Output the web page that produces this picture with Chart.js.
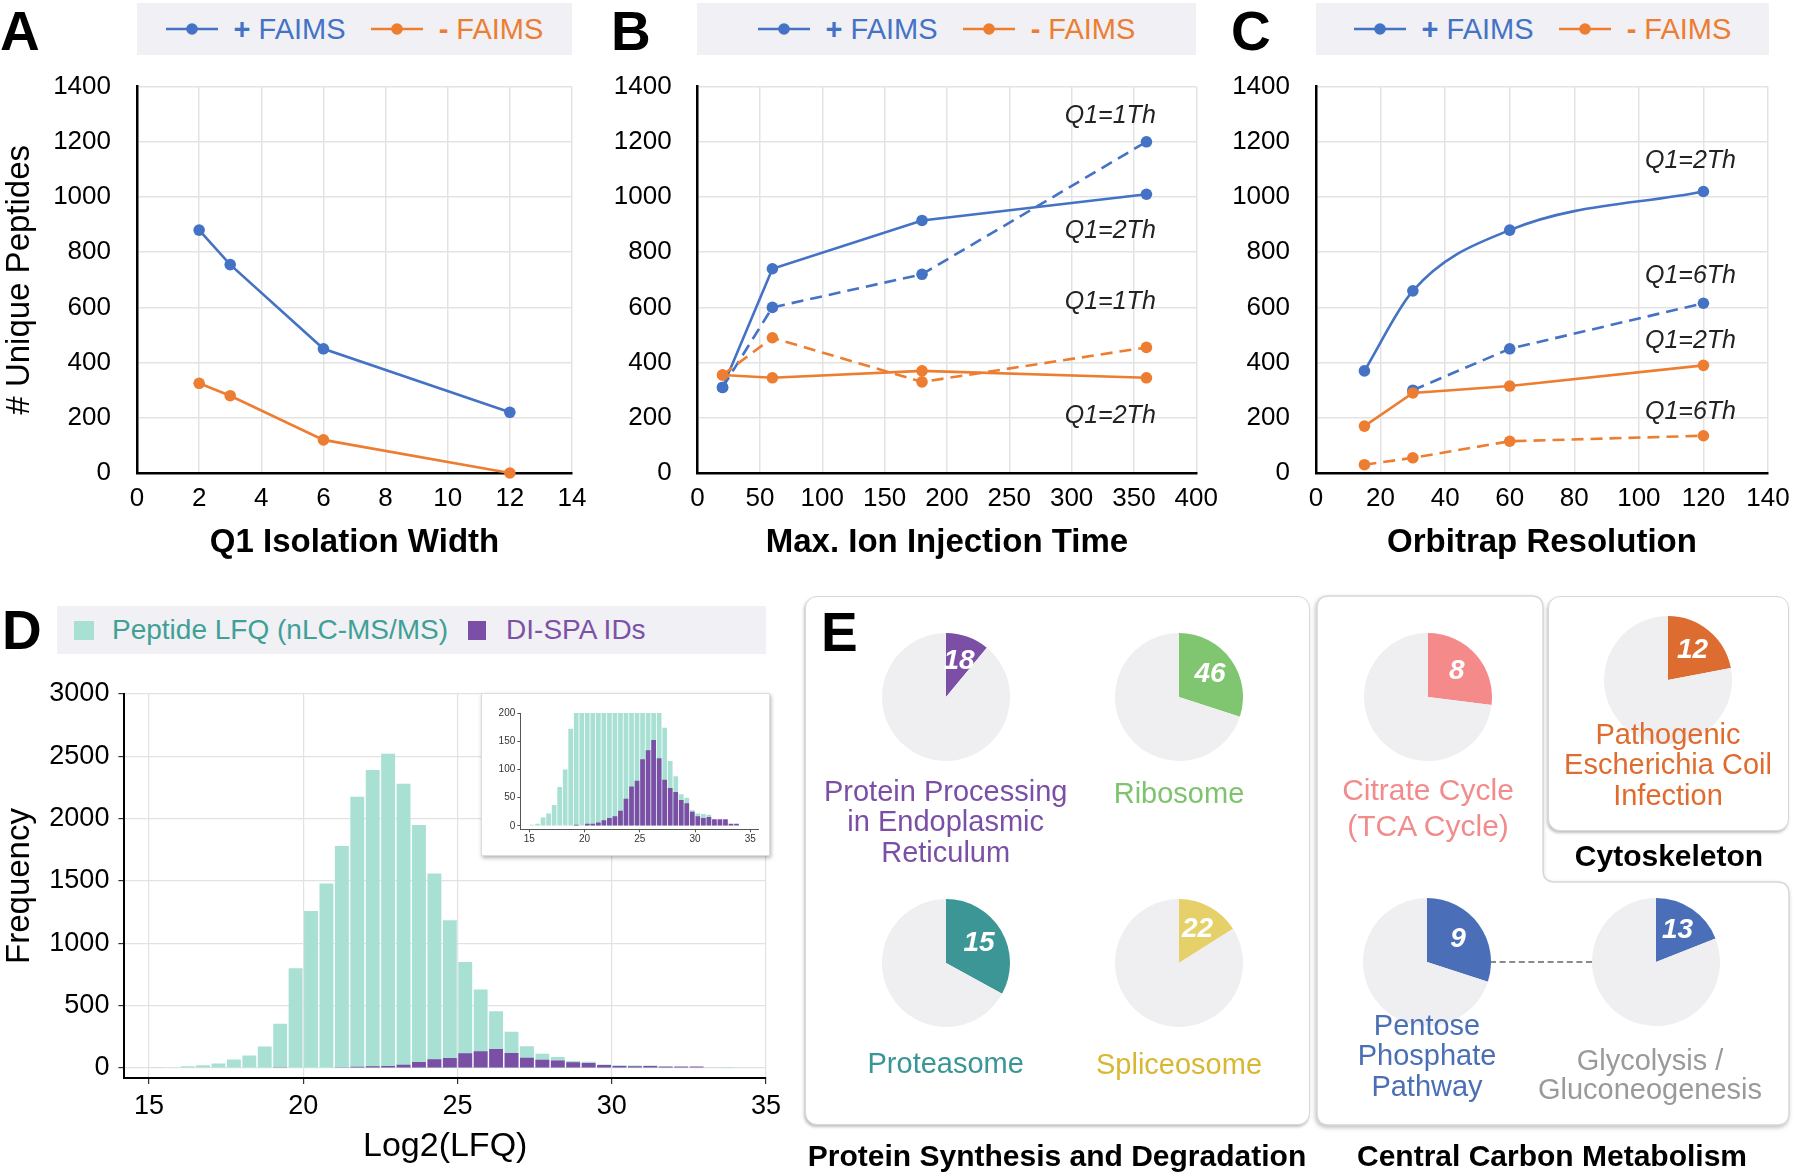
<!DOCTYPE html>
<html lang="en">
<head>
<meta charset="UTF-8">
<title>FAIMS / DI-SPA</title>
<script src="https://cdn.jsdelivr.net/npm/chart.js@4"></script>
<style>
  body { margin: 0; background: #fff; font-family: "Liberation Sans", Arial, sans-serif; color: #000; }
  #page { position: relative; width: 1800px; height: 1176px; overflow: hidden; }
  canvas, .abs { position: absolute; }
  .letter { position: absolute; font-weight: bold; font-size: 55px; line-height: 55px; }
  .legend { position: absolute; background: #f0f0f5; display: flex; align-items: center; justify-content: center; font-size: 29px; height: 52px; top: 3px; }
  .legend .txt { margin-left: 16px; margin-right: 25px; white-space: pre; }
  .legend .txt:last-child { margin-right: 0; }
  .box { position: absolute; background: #fff; border: 1.5px solid #d8d8d8; border-radius: 12px; box-shadow: -1px 2px 3px rgba(0,0,0,0.25); box-sizing: border-box; }
  .plabel { position: absolute; white-space: pre; text-align: center; transform: translateX(-50%); z-index: 3; }
  .group { position: absolute; font-weight: bold; font-size: 30px; line-height: 36px; transform: translateX(-50%); white-space: nowrap; z-index: 3; }
</style>
</head>
<body>
<div id="page">
  <div class="letter" style="left:0;top:4px">A</div>
  <div class="letter" style="left:611px;top:4px">B</div>
  <div class="letter" style="left:1231px;top:4px">C</div>
  <div class="letter" style="left:2px;top:603px">D</div>

  <div class="legend" id="legA" style="left:137px;width:435px"></div>
  <div class="legend" id="legB" style="left:697px;width:499px"></div>
  <div class="legend" id="legC" style="left:1316px;width:453px"></div>

  <canvas id="chartA" width="600" height="535" style="left:0;top:45px"></canvas>
  <canvas id="chartB" width="628" height="535" style="left:600px;top:45px"></canvas>
  <canvas id="chartC" width="600" height="535" style="left:1200px;top:45px"></canvas>

  <div class="abs" id="legD" style="left:57px;top:606px;width:709px;height:48px;background:#f0f0f5;display:flex;align-items:center;font-size:28px"></div>
  <canvas id="chartD" width="790" height="511" style="left:0;top:665px"></canvas>
  <div class="abs" style="left:481px;top:693px;width:287px;height:161px;background:#fff;border:1px solid #ddd;box-shadow:1px 2px 4px rgba(0,0,0,0.3)">
    <canvas id="inset" width="287" height="161" style="left:0;top:0"></canvas>
  </div>

  <!-- panel E frames -->
  <div class="box" style="left:805px;top:596px;width:505px;height:529px"></div>
  <svg class="abs" width="1800" height="1176" style="left:0;top:0;filter:drop-shadow(-1px 2px 2px rgba(0,0,0,0.25))">
    <path d="M1329,596 H1531 Q1543,596 1543,608 V870 Q1543,882 1555,882 H1777 Q1789,882 1789,894 V1113 Q1789,1125 1777,1125 H1329 Q1317,1125 1317,1113 V608 Q1317,596 1329,596 Z"
          fill="#fff" stroke="#d8d8d8" stroke-width="1.5"/>
  </svg>
  <div class="box" style="left:1548px;top:596px;width:241px;height:235px"></div>
  <div class="abs" style="left:1490px;top:961px;width:102px;border-top:2px dashed #8a8a8a;z-index:2"></div>
  <div class="letter" style="left:821px;top:605px;z-index:3">E</div>
  <div id="pies"></div>
  <div class="group" style="left:1057px;top:1138px">Protein Synthesis and Degradation</div>
  <div class="group" style="left:1552px;top:1138px">Central Carbon Metabolism</div>
  <div class="group" style="left:1669px;top:838px">Cytoskeleton</div>
</div>

<script>
Chart.defaults.font.family = '"Liberation Sans", Arial, sans-serif';
Chart.defaults.color = '#000';

const BLUE = '#4472c4', ORANGE = '#ed7d31';
const seriesNames = ['+ FAIMS', '- FAIMS'];

// A: Q1 isolation width
const isoWidth = [2, 3, 6, 12];
const aPlus  = [880, 755, 450, 220];
const aMinus = [325, 280, 120, 0];

// B: max ion injection time (solid Q1=2Th, dashed Q1=1Th)
const injTime = [20, 60, 180, 360];
const bPlus2  = [310, 740, 915, 1010];
const bPlus1  = [310, 600, 720, 1200];
const bMinus2 = [355, 345, 370, 345];
const bMinus1 = [355, 490, 330, 455];
const bNotes  = ['Q1=1Th', 'Q1=2Th', 'Q1=1Th', 'Q1=2Th'];
const bNoteY  = [1293, 878, 619, 205];

// C: orbitrap resolution (solid Q1=2Th, dashed Q1=6Th)
const orbiRes = [15, 30, 60, 120];
const cPlus2  = [370, 660, 880, 1020];
const cPlus6  = [null, 300, 450, 615];
const cMinus2 = [170, 290, 315, 390];
const cMinus6 = [30, 55, 115, 135];
const cNotes  = ['Q1=2Th', 'Q1=6Th', 'Q1=2Th', 'Q1=6Th'];
const cNoteY  = [1131, 712, 479, 220];

// D: histogram, 0.5 wide bins
const binCenters = [15.25, 15.75, 16.25, 16.75, 17.25, 17.75, 18.25, 18.75, 19.25, 19.75,
  20.25, 20.75, 21.25, 21.75, 22.25, 22.75, 23.25, 23.75, 24.25, 24.75,
  25.25, 25.75, 26.25, 26.75, 27.25, 27.75, 28.25, 28.75, 29.25, 29.75,
  30.25, 30.75, 31.25, 31.75, 32.25, 32.75, 33.25, 33.75];
const lfqCounts = [2, 4, 15, 22, 37, 69, 100, 172, 355, 800,
  1260, 1480, 1780, 2175, 2390, 2520, 2280, 1950, 1560, 1185,
  850, 630, 455, 290, 174, 115, 88, 56, 50, 28,
  22, 21, 20, 8, 6, 5, 2, 1];
const dispaCounts = [0, 0, 0, 0, 0, 0, 0, 0, 2, 0,
  4, 4, 6, 10, 14, 17, 27, 48, 70, 80,
  118, 134, 152, 120, 82, 67, 60, 46, 40, 25,
  17, 14, 16, 12, 12, 12, 4, 4];
const dLegend = ['Peptide LFQ (nLC-MS/MS)', 'DI-SPA IDs'];
const dTicksX = [15, 20, 25, 30, 35];
const dTicksY = [0, 500, 1000, 1500, 2000, 2500, 3000];
const insetTicksY = [0, 50, 100, 150, 200];
const MINT = '#a8e0d4', PURPLE = '#7b4fa6';

// E: pathway pies
const pathways = ['Protein Processing\nin Endoplasmic\nReticulum', 'Ribosome', 'Proteasome', 'Spliceosome',
  'Citrate Cycle\n(TCA Cycle)', 'Pathogenic\nEscherichia Coil\nInfection', 'Pentose\nPhosphate\nPathway', 'Glycolysis /\nGluconeogenesis'];
const pathwayIds = [18, 46, 15, 22, 8, 12, 9, 13];
const pathwayShare = [11, 30, 33, 16, 27, 22, 30, 19];
const pieColors = ['#7b4fa6', '#80c56f', '#3d9696', '#e6d06a', '#f48a8a', '#dd6c30', '#4a6fb8', '#4a6fb8'];
const textColors = ['#7a4fa5', '#7dc46d', '#3a9696', '#d8b833', '#f28b8b', '#e06b2e', '#4a6fb5', '#9a9a9a'];

// ---------- legends ----------
function marker(c) {
  return '<svg width="52" height="14"><line x1="0" y1="7" x2="52" y2="7" stroke="' + c +
    '" stroke-width="2.6"/><circle cx="26" cy="7" r="5.8" fill="' + c + '"/></svg>';
}
['legA', 'legB', 'legC'].forEach(id => {
  const el = document.getElementById(id);
  el.innerHTML = [BLUE, ORANGE].map((c, i) =>
    marker(c) + '<span class="txt" style="color:' + c + '"><b>' + seriesNames[i][0] + '</b>' + seriesNames[i].slice(1) + '</span>'
  ).join('');
});
document.getElementById('legD').innerHTML =
  '<span style="width:20px;height:19px;background:' + MINT + ';margin-left:17px"></span>' +
  '<span style="color:#40a096;margin-left:18px">' + dLegend[0] + '</span>' +
  '<span style="width:18px;height:19px;background:' + PURPLE + ';margin-left:20px"></span>' +
  '<span style="color:#7b52a6;margin-left:20px">' + dLegend[1] + '</span>';

// ---------- line charts A-C ----------
function xy(xs, ys) { return xs.map((x, i) => ({x: x, y: ys[i]})).filter(p => p.y !== null); }
const plain = v => v;

function lineSet(xs, ys, color, dashed, smooth) {
  return {
    data: xy(xs, ys), borderColor: color, backgroundColor: color,
    borderWidth: 2.6, borderDash: dashed ? [12, 7] : [],
    pointRadius: 5.8, pointBorderWidth: 0, pointHoverRadius: 5.8,
    tension: smooth ? 0.4 : 0, cubicInterpolationMode: smooth ? 'monotone' : 'default',
    clip: false
  };
}

const notesPlugin = {
  id: 'notes',
  afterDatasetsDraw(chart, args, opts) {
    if (!opts.text) return;
    const {ctx, scales} = chart;
    ctx.save();
    ctx.font = 'italic 25px "Liberation Sans", Arial';
    ctx.fillStyle = '#222';
    ctx.textAlign = 'center';
    ctx.textBaseline = 'middle';
    opts.text.forEach((t, i) => ctx.fillText(t, scales.x.getPixelForValue(opts.x), scales.y.getPixelForValue(opts.y[i])));
    ctx.restore();
  }
};

function lineChart(id, sets, o) {
  return new Chart(document.getElementById(id), {
    type: 'line',
    data: {datasets: sets},
    plugins: [notesPlugin],
    options: {
      responsive: false, animation: false, events: [],
      layout: {padding: {top: 0, right: o.padRight, bottom: 17, left: 0}},
      plugins: {legend: {display: false}, tooltip: {enabled: false}, notes: o.notes || {}},
      scales: {
        x: {
          type: 'linear', min: 0, max: o.xMax,
          ticks: {stepSize: o.xStep, padding: 10, font: {size: 26}, color: '#000', callback: plain},
          grid: {color: '#e3e3e3', lineWidth: 1.5, drawTicks: false},
          border: {color: '#000', width: 2.5},
          title: {display: true, text: o.xTitle, font: {size: 33, weight: 'bold'}, color: '#000', padding: 0},
          afterFit: s => { s.height = 90; }
        },
        y: {
          min: 0, max: 1400,
          ticks: {stepSize: 200, padding: 26, font: {size: 26}, color: '#000', callback: plain},
          grid: {color: '#e3e3e3', lineWidth: 1.5, drawTicks: false},
          border: {color: '#000', width: 2.5},
          title: {display: !!o.yTitle, text: o.yTitle || '', font: {size: 33}, color: '#000', padding: 0},
          afterFit: s => { s.width = o.yWidth; }
        }
      }
    }
  });
}

lineChart('chartA', [
  lineSet(isoWidth, aMinus, ORANGE),
  lineSet(isoWidth, aPlus, BLUE)
], {xMax: 14, xStep: 2, xTitle: 'Q1 Isolation Width', yTitle: '# Unique Peptides', yWidth: 137, padRight: 28});

lineChart('chartB', [
  lineSet(injTime, bMinus2, ORANGE),
  lineSet(injTime, bMinus1, ORANGE, true),
  lineSet(injTime, bPlus2, BLUE),
  lineSet(injTime, bPlus1, BLUE, true)
], {xMax: 400, xStep: 50, xTitle: 'Max. Ion Injection Time', yWidth: 97.6, padRight: 0,
    notes: {text: bNotes, x: 331, y: bNoteY}});

lineChart('chartC', [
  lineSet(orbiRes, cMinus2, ORANGE),
  lineSet(orbiRes, cMinus6, ORANGE, true),
  lineSet(orbiRes, cPlus2, BLUE, false, true),
  lineSet(orbiRes, cPlus6, BLUE, true)
], {xMax: 140, xStep: 20, xTitle: 'Orbitrap Resolution', yWidth: 116, padRight: 32,
    notes: {text: cNotes, x: 116, y: cNoteY}});

// ---------- D histogram + inset ----------
function histSets(bp) {
  return [
    {data: xy(binCenters, dispaCounts), backgroundColor: PURPLE, order: 0, grouped: false, barPercentage: bp, categoryPercentage: 1},
    {data: xy(binCenters, lfqCounts), backgroundColor: MINT, order: 1, grouped: false, barPercentage: bp, categoryPercentage: 1}
  ];
}
const setTicks = vals => s => { s.ticks = vals.map(v => ({value: v})); };

new Chart(document.getElementById('chartD'), {
  type: 'bar',
  data: {datasets: histSets(0.9)},
  options: {
    responsive: false, animation: false, events: [],
    layout: {padding: {top: 29, right: 24, bottom: 9, left: 0}},
    plugins: {legend: {display: false}, tooltip: {enabled: false}},
    scales: {
      x: {
        type: 'linear', min: 14.2, max: 35, offset: false,
        afterBuildTicks: setTicks(dTicksX),
        ticks: {padding: 6, font: {size: 27}, color: '#000', callback: plain},
        grid: {color: '#e2e2e2', lineWidth: 1.2, tickLength: 6, tickColor: '#333', offset: false},
        border: {color: '#000', width: 2},
        title: {display: true, text: 'Log2(LFQ)', font: {size: 34}, color: '#000', padding: 0},
        afterFit: s => { s.height = 89; }
      },
      y: {
        min: -80, max: 3000,
        afterBuildTicks: setTicks(dTicksY),
        ticks: {padding: 9, font: {size: 27}, color: '#000', callback: plain},
        grid: {color: '#e2e2e2', lineWidth: 1.2, tickLength: 6, tickColor: '#333'},
        border: {color: '#000', width: 2},
        title: {display: true, text: 'Frequency', font: {size: 33}, color: '#000', padding: 0},
        afterFit: s => { s.width = 124.4; }
      }
    }
  }
});

new Chart(document.getElementById('inset'), {
  type: 'bar',
  data: {datasets: histSets(0.85)},
  options: {
    responsive: false, animation: false, events: [],
    layout: {padding: {top: 19, right: 10.7, bottom: 2, left: 0}},
    plugins: {legend: {display: false}, tooltip: {enabled: false}},
    scales: {
      x: {
        type: 'linear', min: 14.19, max: 35.72, offset: false,
        afterBuildTicks: setTicks(dTicksX),
        ticks: {padding: 1, font: {size: 10}, color: '#333', callback: plain},
        grid: {drawOnChartArea: false, tickLength: 3, tickColor: '#555', offset: false},
        border: {color: '#555', width: 1},
        afterFit: s => { s.height = 23.7; }
      },
      y: {
        min: -5.9, max: 200,
        afterBuildTicks: setTicks(insetTicksY),
        ticks: {padding: 2, font: {size: 10}, color: '#333', callback: plain},
        grid: {drawOnChartArea: false, tickLength: 3, tickColor: '#555'},
        border: {color: '#555', width: 1},
        afterFit: s => { s.width = 38.3; }
      }
    }
  }
});

// ---------- E pies ----------
// [cx, cy, label x, label top, line height, font size]
const pieLayout = [
  [945.7, 697, 945.7, 776, 30.4, 29], [1179, 697, 1179, 778, 30.4, 29],
  [945.7, 963, 945.7, 1048, 30.4, 29], [1179, 963, 1179, 1049, 30.4, 29],
  [1427.7, 697, 1428, 772, 36, 30], [1667.7, 680, 1668, 719, 30.4, 29],
  [1427, 962, 1427, 1010, 30.4, 29], [1655.7, 962, 1650, 1046, 29, 29]
];

const wedgeLabel = {
  id: 'wedgeLabel',
  afterDatasetsDraw(chart, args, opts) {
    const arc = chart.getDatasetMeta(0).data[0];
    const mid = (arc.startAngle + arc.endAngle) / 2;
    const r = arc.outerRadius * 0.6;
    const ctx = chart.ctx;
    ctx.save();
    ctx.font = 'italic bold 28px "Liberation Sans", Arial';
    ctx.fillStyle = '#fff';
    ctx.textAlign = 'center';
    ctx.textBaseline = 'middle';
    ctx.fillText(opts.text, arc.x + r * Math.cos(mid), arc.y + r * Math.sin(mid));
    ctx.restore();
  }
};

const pieBox = document.getElementById('pies');
pathways.forEach((name, i) => {
  const [cx, cy, lx, ly, lh, fs] = pieLayout[i];
  const cv = document.createElement('canvas');
  cv.width = 128; cv.height = 128;
  cv.style.left = (cx - 64) + 'px';
  cv.style.top = (cy - 64) + 'px';
  cv.style.zIndex = 2;
  pieBox.appendChild(cv);
  new Chart(cv, {
    type: 'pie',
    data: {datasets: [{data: [pathwayShare[i], 100 - pathwayShare[i]], backgroundColor: [pieColors[i], '#efeff1'], borderWidth: 0}]},
    plugins: [wedgeLabel],
    options: {
      responsive: false, animation: false, events: [],
      plugins: {legend: {display: false}, tooltip: {enabled: false}, wedgeLabel: {text: String(pathwayIds[i])}}
    }
  });
  const lab = document.createElement('div');
  lab.className = 'plabel';
  lab.textContent = name;
  lab.style.cssText += 'left:' + lx + 'px;top:' + ly + 'px;line-height:' + lh + 'px;font-size:' + fs + 'px;color:' + textColors[i];
  pieBox.appendChild(lab);
});
</script>
</body>
</html>
